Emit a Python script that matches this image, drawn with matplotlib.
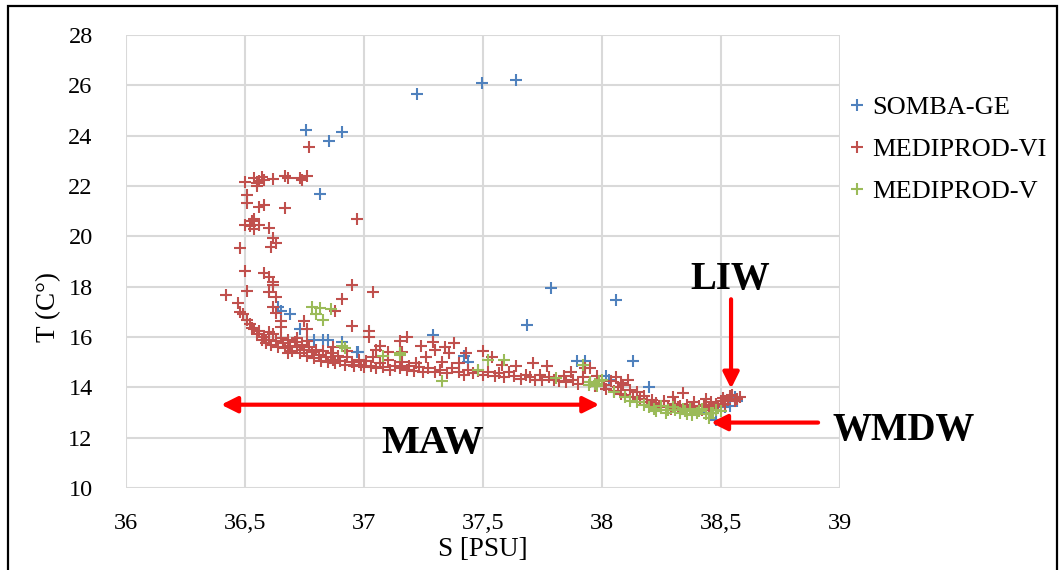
import matplotlib
matplotlib.use("Agg")
import matplotlib.pyplot as plt
from matplotlib.patches import Rectangle

plt.rcParams['font.family'] = ['Liberation Serif', 'DejaVu Serif']

# SOMBA-GE
somba_s = [37.225, 37.497, 37.639, 36.757, 36.908, 36.855, 36.817, 37.789, 38.059, 37.686,
           37.29, 38.13, 37.895, 37.93, 37.42, 37.44, 36.64, 36.65, 36.69, 36.73,
           36.79, 36.83, 36.91, 36.977, 36.97, 38.03, 38.02, 38.20, 38.48, 38.57,
           38.52, 38.45, 38.50, 38.54, 38.56, 36.85]
somba_t = [25.67, 26.08, 26.21, 24.23, 24.15, 23.80, 21.67, 17.93, 17.49, 16.49,
           16.09, 15.05, 15.03, 15.03, 15.25, 15.0, 17.19, 17.05, 16.92, 16.32,
           15.90, 15.87, 15.79, 15.39, 15.41, 14.30, 14.45, 14.0, 12.72, 13.44,
           13.20, 13.0, 13.3, 13.25, 13.6, 15.9]

# MEDIPROD-VI
mvi_s = [36.50, 36.54, 36.55, 36.56, 36.55, 36.57, 36.58, 36.62, 36.67, 36.68, 36.74, 36.76, 36.73, 36.77,
         36.51, 36.51, 36.56, 36.58, 36.67,
         36.50, 36.53, 36.54, 36.54, 36.52, 36.56, 36.60, 36.62, 36.61, 36.63, 36.48, 36.97,
         36.50, 36.58, 36.60, 36.62, 36.62, 36.95, 37.04, 36.91,
         36.42, 36.51, 36.60, 36.63, 36.47, 36.48, 36.51, 36.53, 36.62, 36.63, 36.65, 36.65,
         36.88, 36.95, 37.02, 37.02, 36.75, 36.76, 36.49, 36.52, 36.54, 36.59,
         36.55, 36.57, 36.58, 36.59, 36.60, 36.61, 36.62, 36.63, 36.64, 36.65, 36.56, 36.60,
         36.66, 36.67, 36.68, 36.69, 36.70, 36.71, 36.72, 36.73, 36.74, 36.75, 36.76, 36.77, 36.78, 36.79,
         36.80, 36.68, 36.72, 36.76,
         36.81, 36.82, 36.83, 36.84, 36.85, 36.86, 36.87, 36.88, 36.89, 36.90, 36.92, 36.93, 36.95, 36.96,
         36.98, 36.99, 36.87, 36.93,
         37.00, 37.01, 37.03, 37.04, 37.05, 37.07, 37.08, 37.10, 37.11, 37.13, 37.15, 37.16, 37.18, 37.19,
         37.07, 37.15, 37.18, 37.10, 37.16, 37.05,
         37.21, 37.23, 37.24, 37.25, 37.27, 37.29, 37.30, 37.30, 37.32, 37.34, 37.35, 37.36, 37.37, 37.38,
         37.40, 37.42, 37.43, 37.44, 37.46, 37.48, 37.50, 37.50, 37.26, 37.33, 37.40, 37.22,
         37.52, 37.54, 37.55, 37.57, 37.59, 37.61, 37.63, 37.64, 37.66, 37.68, 37.70, 37.71, 37.72, 37.74,
         37.75, 37.77, 37.78, 37.80, 37.58,
         37.82, 37.84, 37.85, 37.87, 37.88, 37.90, 37.92, 37.93, 37.95, 37.95, 37.97, 37.98, 37.99,
         38.01, 38.02, 38.04, 38.05, 38.07, 38.08, 38.09, 38.10, 38.12, 38.13, 38.15, 38.16, 38.18, 38.19,
         38.06, 38.11, 38.08,
         38.21, 38.22, 38.23, 38.25, 38.26, 38.28, 38.29, 38.31, 38.32, 38.33, 38.34, 38.35, 38.36, 38.38,
         38.39, 38.30,
         38.41, 38.42, 38.43, 38.45, 38.46, 38.47, 38.48, 38.49, 38.50, 38.51, 38.52, 38.53, 38.54, 38.55,
         38.56, 38.57, 38.58, 38.44]
mvi_t = [22.17, 22.31, 22.11, 22.20, 22.00, 22.35, 22.25, 22.27, 22.40, 22.30, 22.24, 22.40, 22.30, 23.54,
         21.65, 21.34, 21.18, 21.25, 21.12,
         20.46, 20.60, 20.70, 20.30, 20.40, 20.45, 20.33, 19.93, 19.57, 19.75, 19.53, 20.68,
         18.63, 18.54, 18.40, 18.20, 18.08, 18.08, 17.77, 17.51,
         17.68, 17.81, 17.80, 17.60, 17.35, 17.00, 16.69, 16.36, 17.20, 16.95, 16.65, 16.40,
         17.05, 16.45, 16.22, 16.00, 16.65, 16.30, 16.9, 16.5, 16.3, 15.9,
         16.10, 15.90, 16.00, 15.75, 15.90, 15.70, 16.10, 15.85, 15.60, 15.95, 16.25, 16.20,
         15.75, 15.55, 15.90, 15.65, 15.45, 15.80, 15.60, 15.35, 15.70, 15.50, 15.25, 15.60, 15.40, 15.15,
         15.50, 15.35, 15.95, 15.85,
         15.30, 15.05, 15.45, 15.20, 15.00, 15.35, 15.10, 14.95, 15.25, 15.05, 14.90, 15.20, 15.00, 14.85,
         15.10, 14.90, 15.60, 15.45,
         14.80, 15.05, 14.85, 15.20, 14.75, 14.95, 14.80, 15.10, 14.70, 14.85, 14.75, 15.00, 14.70, 14.85,
         15.63, 15.83, 16.00, 15.40, 15.40, 15.50,
         14.65, 14.80, 15.63, 14.60, 14.75, 15.80, 14.60, 15.50, 14.70, 15.60, 14.55, 15.35, 14.75, 15.76,
         14.60, 14.50, 15.35, 14.70, 14.55, 14.65, 15.43, 14.50, 15.20, 15.00, 14.95, 14.95,
         14.60, 15.20, 14.45, 14.55, 14.40, 14.60, 14.45, 14.85, 14.35, 14.50, 14.40, 14.97, 14.30, 14.50,
         14.30, 14.85, 14.40, 14.30, 14.90,
         14.25, 14.45, 14.20, 14.60, 14.30, 14.15, 14.40, 14.75, 14.77, 14.20, 14.05, 14.44, 14.25,
         14.10, 13.95, 14.25, 13.85, 14.00, 13.75, 14.10, 13.70, 13.90, 13.60, 13.80, 13.55, 13.65, 13.40,
         14.40, 14.30, 14.17,
         13.50, 13.30, 13.38, 13.20, 13.45, 13.25, 13.15, 13.35, 13.20, 13.25, 13.78, 13.15, 13.30, 13.20,
         13.40, 13.60,
         13.25, 13.10, 13.30, 13.20, 13.40, 13.15, 13.35, 13.25, 13.45, 13.58, 13.35, 13.50, 13.65, 13.71,
         13.45, 13.55, 13.60, 13.55]

# MEDIPROD-V
mv_s = [36.78, 36.816, 36.86, 36.83, 36.80, 36.91, 36.92, 37.08, 37.15, 37.15,
        37.33, 37.48, 37.52, 37.59, 37.81, 37.92, 37.945, 37.99, 38.00, 37.95,
        37.97, 38.12, 38.10, 38.15, 38.20, 38.23, 38.25, 38.28, 38.31, 38.33,
        38.34, 38.35, 38.37, 38.40, 38.42, 38.44, 38.45, 38.46, 38.47, 38.48,
        38.50, 38.38, 38.18, 38.22, 38.30, 38.36, 38.41, 38.27, 37.98, 38.05]
mv_t = [17.19, 17.15, 17.11, 16.69, 16.90, 15.65, 15.55, 15.26, 15.30, 15.37,
        14.24, 14.70, 15.10, 15.10, 14.37, 14.90, 14.10, 14.24, 14.30, 14.20,
        14.15, 13.44, 13.60, 13.40, 13.20, 13.05, 13.25, 13.10, 13.10, 13.00,
        13.12, 13.05, 13.15, 13.00, 13.12, 12.95, 12.80, 12.98, 13.00, 13.10,
        13.05, 12.90, 13.30, 13.15, 13.20, 12.95, 13.05, 13.00, 14.05, 13.80]

fig = plt.figure(figsize=(10.62, 5.70), dpi=100)
ax = fig.add_axes([126 / 1062, 1 - 488 / 570, (839.5 - 126) / 1062, (488 - 35) / 570])

ms, mew = 9, 1.5
ax.plot(somba_s, somba_t, '+', color='#4F81BD', ms=ms, mew=mew, label='SOMBA-GE', clip_on=False)
ax.plot(mvi_s, mvi_t, '+', color='#C0504D', ms=ms, mew=mew, label='MEDIPROD-VI', clip_on=False)
ax.plot(mv_s, mv_t, '+', color='#9BBB59', ms=ms, mew=mew, label='MEDIPROD-V', clip_on=False)

ax.set_xlim(36, 39)
ax.set_ylim(10, 28)
xt = [36, 36.5, 37, 37.5, 38, 38.5, 39]
ax.set_xticks(xt)
ax.set_xticklabels([('%g' % v).replace('.', ',') for v in xt])
ax.set_yticks(range(10, 29, 2))
ax.grid(True, color='#D9D9D9', lw=1.5)
ax.set_axisbelow(True)
for sp in ax.spines.values():
    sp.set_visible(False)
ax.tick_params(length=0, labelsize=17.5, colors='black')
ax.tick_params(axis='y', pad=24)
ax.tick_params(axis='x', pad=18)
ax.set_xlabel('S [PSU]', fontsize=19.5, va='center')
ax.set_ylabel('T (C°)', fontsize=19.5, va='center')
ax.xaxis.set_label_coords(0.5, -0.136)
ax.yaxis.set_label_coords(-0.108, 0.40)

ax.legend(loc='upper left', bbox_to_anchor=(825 / 1062, 1 - 72 / 570), bbox_transform=fig.transFigure,
          frameon=False, fontsize=19, handlelength=0.6, handletextpad=0.3, labelspacing=0.7,
          markerscale=1.0)

red = '#FF0000'
arr = dict(color=red, lw=3, shrinkA=0, shrinkB=0, mutation_scale=24)
ax.annotate('', xy=(38.544, 13.95), xytext=(38.544, 17.5), annotation_clip=False,
            arrowprops=dict(arrowstyle='-|>', **arr))
ax.annotate('', xy=(36.40, 13.31), xytext=(37.99, 13.31), annotation_clip=False,
            arrowprops=dict(arrowstyle='<|-|>', **arr))
ax.annotate('', xy=(38.46, 12.6), xytext=(38.91, 12.6), annotation_clip=False,
            arrowprops=dict(arrowstyle='-|>', **arr))

ax.text(38.54, 18.3, 'LIW', fontsize=28, fontweight='bold', ha='center', va='center')
ax.text(37.29, 11.75, 'MAW', fontsize=29, fontweight='bold', ha='center', va='center')
ax.text(39.27, 12.3, 'WMDW', fontsize=28, fontweight='bold', ha='center', va='center')

fig.patches.append(Rectangle((8 / 1062, -0.02), (1057 - 8) / 1062, 1.02 - 6 / 570,
                             transform=fig.transFigure, fill=False, ec='black', lw=1.6))

fig.savefig('out.png', dpi=100)
